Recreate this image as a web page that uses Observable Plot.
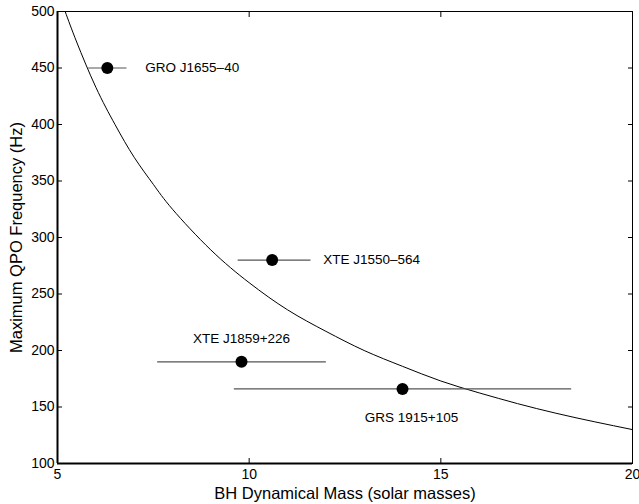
<!DOCTYPE html>
<html>
<head>
<meta charset="utf-8">
<script src="https://cdn.jsdelivr.net/npm/d3@7"></script>
<script src="https://cdn.jsdelivr.net/npm/@observablehq/plot@0.6"></script>
<style>
  html, body { margin: 0; padding: 0; background: #fff; }
  #chart { width: 639px; height: 504px; }
</style>
</head>
<body>
<div id="chart"></div>
<script>
// Sources
const names = ["GRO J1655–40", "XTE J1550–564", "XTE J1859+226", "GRS 1915+105"];
const mass = [6.3, 10.6, 9.8, 14.0];
const massLo = [5.8, 9.7, 7.6, 9.6];
const massHi = [6.8, 11.6, 12.0, 18.4];
const freq = [450, 280, 190, 166];

// Curve
const curveMass = [5.2, 5.5, 6, 6.5, 7, 7.5, 8, 9, 10, 11, 12, 13, 14, 15, 16, 17, 18, 19, 20];
const curveFreq = [500, 473, 433, 400, 371, 347, 325, 289, 260, 236, 217, 200, 186, 173, 162.5, 153, 144.5, 137, 130];

const xTicks = [5, 10, 15, 20];
const yTicks = [100, 150, 200, 250, 300, 350, 400, 450, 500];

const pts = names.map((n, i) => ({name: n, m: mass[i], lo: massLo[i], hi: massHi[i], f: freq[i]}));
const curve = curveMass.map((m, i) => ({m, f: curveFreq[i]}));

const labelLayout = {
  "GRO J1655–40": {dx: 38, dy: 0, anchor: "start"},
  "XTE J1550–564": {dx: 51, dy: 0, anchor: "start"},
  "XTE J1859+226": {dx: 0, dy: -23, anchor: "middle"},
  "GRS 1915+105": {dx: 9, dy: 29, anchor: "middle"}
};

const font = "Liberation Sans, Arial, Helvetica, sans-serif";

const chart = Plot.plot({
  width: 639,
  height: 504,
  marginLeft: 57,
  marginRight: 7,
  marginTop: 11,
  marginBottom: 41,
  style: {fontFamily: font, fontSize: "14px", color: "#000", background: "#fff"},
  x: {domain: [5, 20], ticks: xTicks},
  y: {domain: [100, 500], ticks: yTicks},
  marks: [
    Plot.frame({stroke: "#000", strokeWidth: 1}),
    // inward ticks on all four sides
    Plot.axisX({anchor: "bottom", ticks: xTicks, tickSize: -5, tickFormat: () => "", label: null}),
    Plot.axisX({anchor: "top", ticks: xTicks, tickSize: -5, tickFormat: () => "", label: null}),
    Plot.axisY({anchor: "left", ticks: yTicks, tickSize: -5, tickFormat: () => "", label: null}),
    Plot.axisY({anchor: "right", ticks: yTicks, tickSize: -5, tickFormat: () => "", label: null}),
    // tick labels
    Plot.axisX({anchor: "bottom", ticks: xTicks, tickSize: 0, tickPadding: 6, fontSize: 14, label: null}),
    Plot.axisY({anchor: "left", ticks: yTicks, tickSize: 0, tickPadding: 3, fontSize: 14, label: null}),
    // axis titles
    Plot.axisX({anchor: "bottom", ticks: [], tickSize: 0, fontSize: 16.5,
      label: "BH Dynamical Mass (solar masses)", labelAnchor: "center", labelArrow: "none", labelOffset: 35}),
    Plot.axisY({anchor: "left", ticks: [], tickSize: 0, fontSize: 16.5,
      label: "Maximum QPO Frequency (Hz)", labelAnchor: "center", labelArrow: "none", labelOffset: 47}),
    Plot.ruleX([5], {stroke: "#000", strokeWidth: 2}),
    Plot.ruleY([100], {stroke: "#000", strokeWidth: 2}),
    Plot.line(curve, {x: "m", y: "f", stroke: "#000", strokeWidth: 1, curve: "natural"}),
    Plot.link(pts, {x1: "lo", x2: "hi", y1: "f", y2: "f", stroke: "#555", strokeWidth: 1.2}),
    Plot.dot(pts, {x: "m", y: "f", r: 6, fill: "#000", stroke: "none"}),
    ...names.map(n => Plot.text(pts.filter(d => d.name === n), {
      x: "m", y: "f", text: "name",
      dx: labelLayout[n].dx, dy: labelLayout[n].dy, textAnchor: labelLayout[n].anchor,
      fontSize: 13.5, fill: "#000"
    }))
  ]
});

document.getElementById("chart").appendChild(chart);
</script>
</body>
</html>
